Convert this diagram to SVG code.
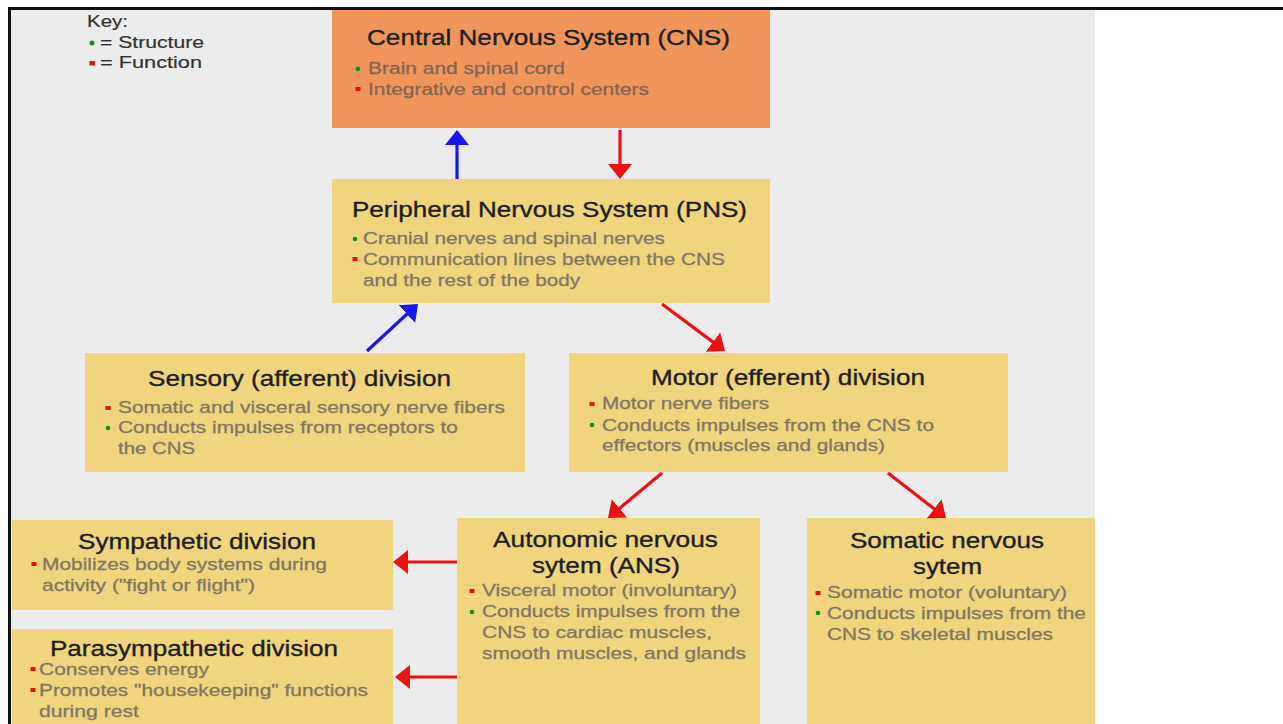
<svg xmlns="http://www.w3.org/2000/svg" width="1283" height="724" viewBox="0 0 1283 724">
<style>
.t{font-family:"Liberation Sans",Arial,sans-serif;font-size:22px;fill:#1e1e1e;stroke:#1e1e1e;stroke-width:0.35}
.b{font-family:"Liberation Sans",Arial,sans-serif;font-size:17px;fill:#837763;stroke:#837763;stroke-width:0.3}
.bo{font-family:"Liberation Sans",Arial,sans-serif;font-size:17px;fill:#876550;stroke:#876550;stroke-width:0.3}
.k{font-family:"Liberation Sans",Arial,sans-serif;font-size:17px;fill:#333;stroke:#333;stroke-width:0.2}
.y{fill:#f0d57e}
.o{fill:#f0955c}
.g{fill:#1a8a1a}
.r{fill:#e31212}
.ar{stroke:#ee1111;stroke-width:3.2;fill:none}
.ab{stroke:#1818ee;stroke-width:3.2;fill:none}
</style>
<defs>
<marker id="hr" markerUnits="userSpaceOnUse" markerWidth="15" markerHeight="24" refX="6" refY="12" orient="auto"><path d="M0,0 L15,12 L0,24 z" fill="#ee1111"/></marker>
<marker id="hb" markerUnits="userSpaceOnUse" markerWidth="15" markerHeight="24" refX="6" refY="12" orient="auto"><path d="M0,0 L15,12 L0,24 z" fill="#1818ee"/></marker>
</defs>
<rect x="0" y="0" width="1283" height="724" fill="#ffffff"/>
<rect x="11" y="10" width="1084" height="714" fill="#ececec"/>
<line x1="8" y1="8.5" x2="1283" y2="8.5" stroke="#111" stroke-width="3"/>
<line x1="9.5" y1="7" x2="9.5" y2="724" stroke="#111" stroke-width="3"/>

<g id="key">
<text class="k" x="87" y="27" textLength="41" lengthAdjust="spacingAndGlyphs">Key:</text>
<circle class="g" cx="92" cy="43" r="2.5"/>
<text class="k" x="100" y="48" textLength="104" lengthAdjust="spacingAndGlyphs">= Structure</text>
<rect class="r" x="89.5" y="61" width="5.5" height="4.5"/>
<text class="k" x="100" y="68" textLength="102" lengthAdjust="spacingAndGlyphs">= Function</text>
</g>

<g id="cns">
<rect class="o" x="332" y="10" width="438" height="118"/>
<text class="t" x="367" y="45" textLength="363" lengthAdjust="spacingAndGlyphs">Central Nervous System (CNS)</text>
<circle class="g" cx="358" cy="69" r="2.3"/>
<text class="bo" x="368" y="74" textLength="197" lengthAdjust="spacingAndGlyphs">Brain and spinal cord</text>
<rect class="r" x="355.5" y="87" width="5" height="4"/>
<text class="bo" x="368" y="95" textLength="281" lengthAdjust="spacingAndGlyphs">Integrative and control centers</text>
</g>

<g id="pns">
<rect class="y" x="332" y="179" width="438" height="124"/>
<text class="t" x="352" y="217" textLength="395" lengthAdjust="spacingAndGlyphs">Peripheral Nervous System (PNS)</text>
<circle class="g" cx="355" cy="239" r="2.3"/>
<text class="b" x="363" y="244" textLength="302" lengthAdjust="spacingAndGlyphs">Cranial nerves and spinal nerves</text>
<rect class="r" x="352.5" y="257" width="5" height="4"/>
<text class="b" x="363" y="265" textLength="362" lengthAdjust="spacingAndGlyphs">Communication lines between the CNS</text>
<text class="b" x="363" y="286" textLength="217" lengthAdjust="spacingAndGlyphs">and the rest of the body</text>
</g>

<g id="sensory">
<rect class="y" x="85" y="353" width="440" height="119"/>
<text class="t" x="148" y="386" textLength="303" lengthAdjust="spacingAndGlyphs">Sensory (afferent) division</text>
<rect class="r" x="105.5" y="406" width="5" height="4"/>
<text class="b" x="118" y="413" textLength="387" lengthAdjust="spacingAndGlyphs">Somatic and visceral sensory nerve fibers</text>
<circle class="g" cx="108" cy="428" r="2.3"/>
<text class="b" x="118" y="433" textLength="340" lengthAdjust="spacingAndGlyphs">Conducts impulses from receptors to</text>
<text class="b" x="118" y="454" textLength="77" lengthAdjust="spacingAndGlyphs">the CNS</text>
</g>

<g id="motor">
<rect class="y" x="569" y="353" width="439" height="119"/>
<text class="t" x="651" y="385" textLength="274" lengthAdjust="spacingAndGlyphs">Motor (efferent) division</text>
<rect class="r" x="589.5" y="402" width="5" height="4"/>
<text class="b" x="602" y="409" textLength="167" lengthAdjust="spacingAndGlyphs">Motor nerve fibers</text>
<circle class="g" cx="592" cy="425" r="2.3"/>
<text class="b" x="602" y="431" textLength="332" lengthAdjust="spacingAndGlyphs">Conducts impulses from the CNS to</text>
<text class="b" x="602" y="451" textLength="283" lengthAdjust="spacingAndGlyphs">effectors (muscles and glands)</text>
</g>

<g id="sympathetic">
<rect class="y" x="12" y="520" width="381" height="90"/>
<text class="t" x="78" y="549" textLength="238" lengthAdjust="spacingAndGlyphs">Sympathetic division</text>
<rect class="r" x="31.5" y="562" width="5" height="4"/>
<text class="b" x="42" y="570" textLength="285" lengthAdjust="spacingAndGlyphs">Mobilizes body systems during</text>
<text class="b" x="42" y="591" textLength="213" lengthAdjust="spacingAndGlyphs">activity ("fight or flight")</text>
</g>

<g id="parasympathetic">
<rect class="y" x="12" y="629" width="381" height="95"/>
<text class="t" x="50" y="656" textLength="288" lengthAdjust="spacingAndGlyphs">Parasympathetic division</text>
<rect class="r" x="30.5" y="667" width="5" height="4"/>
<text class="b" x="39" y="675" textLength="170" lengthAdjust="spacingAndGlyphs">Conserves energy</text>
<rect class="r" x="30.5" y="688" width="5" height="4"/>
<text class="b" x="39" y="696" textLength="329" lengthAdjust="spacingAndGlyphs">Promotes "housekeeping" functions</text>
<text class="b" x="39" y="717" textLength="100" lengthAdjust="spacingAndGlyphs">during rest</text>
</g>

<g id="ans">
<rect class="y" x="457" y="518" width="303" height="206"/>
<text class="t" x="493" y="547" textLength="225" lengthAdjust="spacingAndGlyphs">Autonomic nervous</text>
<text class="t" x="532" y="573" textLength="148" lengthAdjust="spacingAndGlyphs">sytem (ANS)</text>
<rect class="r" x="469.5" y="589" width="5" height="4"/>
<text class="b" x="482" y="596" textLength="255" lengthAdjust="spacingAndGlyphs">Visceral motor (involuntary)</text>
<circle class="g" cx="472" cy="612" r="2.3"/>
<text class="b" x="482" y="617" textLength="258" lengthAdjust="spacingAndGlyphs">Conducts impulses from the</text>
<text class="b" x="482" y="638" textLength="230" lengthAdjust="spacingAndGlyphs">CNS to cardiac muscles,</text>
<text class="b" x="482" y="659" textLength="264" lengthAdjust="spacingAndGlyphs">smooth muscles, and glands</text>
</g>

<g id="somatic">
<rect class="y" x="807" y="518" width="288" height="206"/>
<text class="t" x="850" y="548" textLength="194" lengthAdjust="spacingAndGlyphs">Somatic nervous</text>
<text class="t" x="913" y="574" textLength="69" lengthAdjust="spacingAndGlyphs">sytem</text>
<rect class="r" x="815.5" y="591" width="5" height="4"/>
<text class="b" x="827" y="598" textLength="240" lengthAdjust="spacingAndGlyphs">Somatic motor (voluntary)</text>
<circle class="g" cx="818" cy="613" r="2.3"/>
<text class="b" x="827" y="619" textLength="259" lengthAdjust="spacingAndGlyphs">Conducts impulses from the</text>
<text class="b" x="827" y="640" textLength="226" lengthAdjust="spacingAndGlyphs">CNS to skeletal muscles</text>
</g>

<g id="connectors">
<line class="ab" x1="457" y1="179" x2="457" y2="139" marker-end="url(#hb)"/>
<line class="ar" x1="620" y1="130" x2="620" y2="170" marker-end="url(#hr)"/>
<line class="ab" x1="367" y1="351" x2="411.4" y2="310" marker-end="url(#hb)"/>
<line class="ar" x1="662" y1="304" x2="717.8" y2="345.6" marker-end="url(#hr)"/>
<line class="ar" x1="662" y1="473" x2="614.9" y2="512.2" marker-end="url(#hr)"/>
<line class="ar" x1="888" y1="473" x2="938.9" y2="512.5" marker-end="url(#hr)"/>
<line class="ar" x1="457" y1="562" x2="402" y2="562" marker-end="url(#hr)"/>
<line class="ar" x1="457" y1="677" x2="404" y2="677" marker-end="url(#hr)"/>
</g>
</svg>
